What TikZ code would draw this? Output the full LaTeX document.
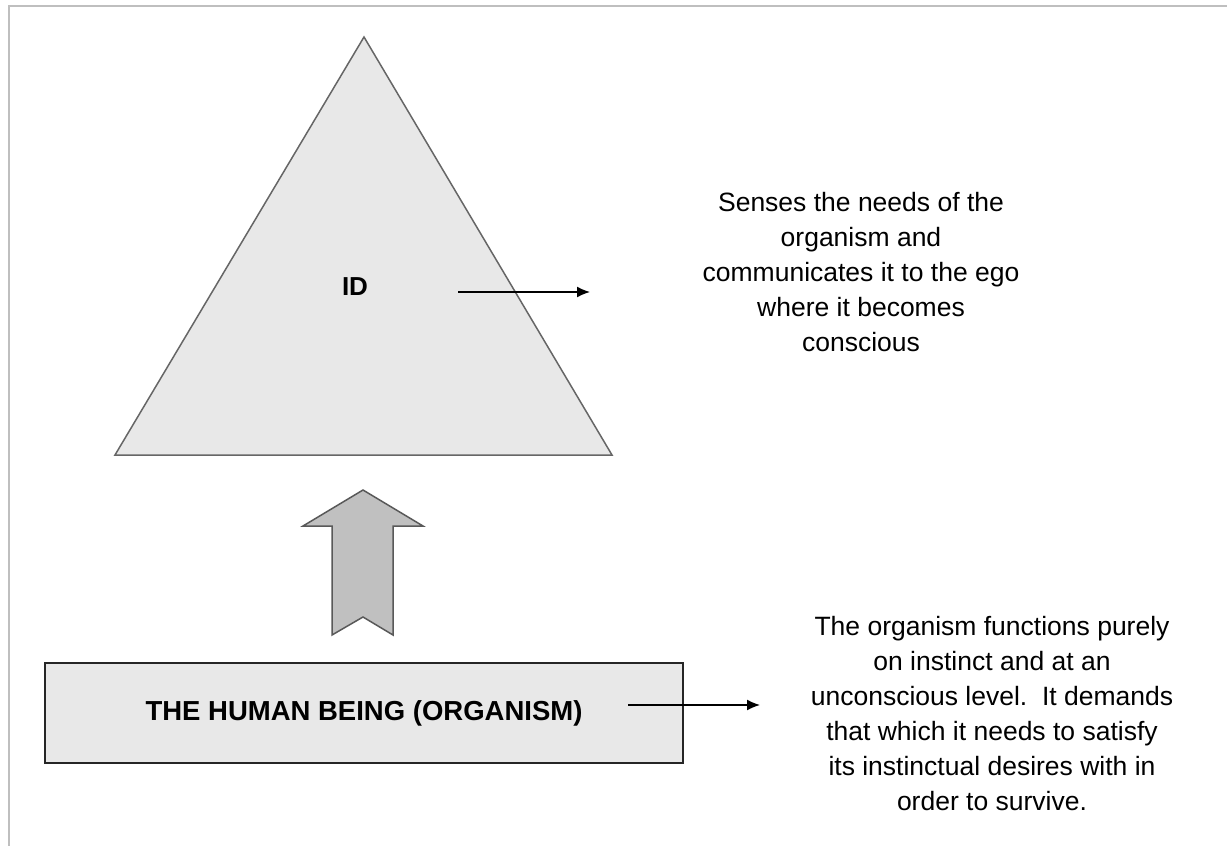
\documentclass[tikz,border=0pt]{standalone}
\usepackage{fontspec}
\setmainfont{Liberation Sans}
\usetikzlibrary{arrows.meta}
\definecolor{idfill}{HTML}{E8E8E8}
\definecolor{upfill}{HTML}{C0C0C0}
\begin{document}
\begin{tikzpicture}[x=1pt,y=-1pt,
  note/.style={align=center, font=\fontsize{26.5}{35}\selectfont},
  lbl/.style={font=\bfseries\fontsize{26}{31}\selectfont},
  pointer/.style={-{Latex[length=13pt,width=11pt]}, line width=1.5pt}]
 \useasboundingbox (0,0) rectangle (1227,846);

 % frame
 \draw[black!25, line width=2pt] (1227,6) -- (9,6) -- (9,846);

 % id triangle
 \draw[fill=idfill, draw=black!60, line width=1.5pt] (115,455) -- (364,37) -- (612,455) -- cycle;
 \node[lbl] (id) at (355,287) {ID};

 % up arrow
 \draw[fill=upfill, draw=black!65, line width=1.5pt]
   (332,635) -- (332,526) -- (303,526) -- (363,490) -- (423,526) -- (393,526) -- (393,635) -- (363,617) -- cycle;

 % organism box
 \node[lbl, font=\bfseries\fontsize{27.5}{31}\selectfont, draw=black!85, fill=idfill, line width=2pt, minimum width=638pt, minimum height=100pt] (org) at (364,713) {THE HUMAN BEING (ORGANISM)};

 % texts
 \node[note] (idtext) at (861,272) {Senses the needs of the\\ organism and\\ communicates it to the ego\\ where it becomes\\ conscious};
 \node[note] (orgtext) at (992,714) {The organism functions purely\\ on instinct and at an\\ unconscious level.\ \ It demands\\ that which it needs to satisfy\\ its instinctual desires with in\\ order to survive.};

 % lines
 \coordinate (idout) at (458,292);
 \coordinate (idend) at (590,292);
 \coordinate (orgout) at (628,705);
 \coordinate (orgend) at (760,705);
 \foreach \source/\dest in {idout/idend, orgout/orgend}
   \path[draw, pointer] (\source) -- (\dest);

\end{tikzpicture}
\end{document}
